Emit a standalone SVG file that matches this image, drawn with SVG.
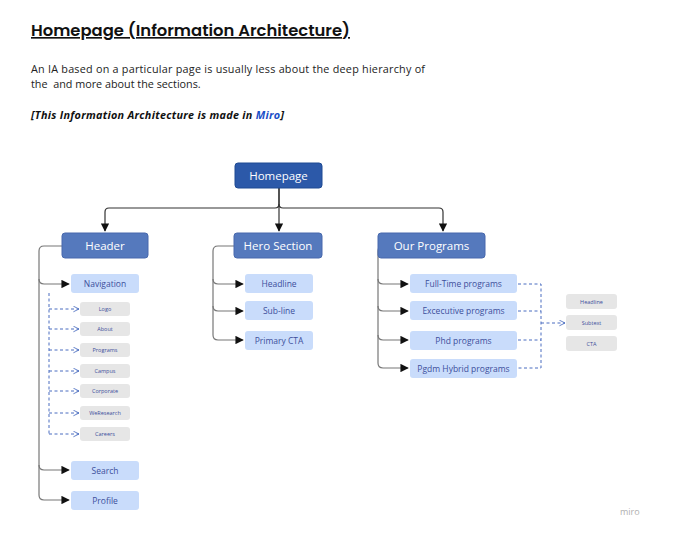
<svg xmlns="http://www.w3.org/2000/svg" width="680" height="552" viewBox="0 0 680 552">
<defs>
<style>
text{font-family:"Open Sans","Noto Sans",sans-serif;}
.dk{fill:#2c59a9;stroke:#1e4a93;stroke-width:1}
.md{fill:#5579bd;stroke:#4869ad;stroke-width:1}
.lt{fill:#c9dcfb}
.gr{fill:#e6e6e6}
.wt{fill:#fff;font-size:11.5px;text-anchor:middle}
.bt{fill:#3d4f9c;font-size:8.5px;text-anchor:middle}
.st{fill:#3d4f9c;font-size:5.5px;text-anchor:middle}
.ln{fill:none;stroke:#333;stroke-width:1.2}
.gl{fill:none;stroke:#777;stroke-width:1.2}
.ds{fill:none;stroke:#4a6cc0;stroke-width:1;stroke-dasharray:3 2.5}
</style>
<marker id="a" viewBox="0 0 10 10" refX="9" refY="5" markerWidth="7" markerHeight="7" orient="auto"><path d="M0,0L10,5L0,10z" fill="#111"/></marker>
<marker id="o" viewBox="0 0 10 10" refX="9" refY="5" markerWidth="7" markerHeight="7" orient="auto"><path d="M1,1L9,5L1,9" fill="none" stroke="#4a6cc0" stroke-width="1.2"/></marker>
</defs>
<rect width="680" height="552" fill="#fff"/>
<text x="31" y="36" font-size="16.5" font-weight="600" fill="#111" text-decoration="underline" style="font-family:'Poppins','Open Sans',sans-serif" textLength="319" lengthAdjust="spacingAndGlyphs">Homepage (Information Architecture)</text>
<text x="31" y="73" font-size="10.8" fill="#222" textLength="394" lengthAdjust="spacing">An IA based on a particular page is usually less about the deep hierarchy of</text>
<text x="31" y="88" font-size="10.8" fill="#222" xml:space="preserve">the  and more about the sections.</text>
<text x="31" y="119" font-size="10.8" font-weight="700" font-style="italic" fill="#111" textLength="253" lengthAdjust="spacing">[This Information Architecture is made in <tspan fill="#1a4fc7">Miro</tspan>]</text>
<g id="connectors">
<path class="ln" d="M279,188V204Q279,208 275,208H109Q105,208 105,212V231" marker-end="url(#a)"/>
<path class="ln" d="M279,188V231" marker-end="url(#a)"/>
<path class="ln" d="M279,204Q279,208 283,208H439Q443,208 443,212V231" marker-end="url(#a)"/>
<path class="gl" d="M62,246H44Q39,246 39,251V495Q39,500 44,500H69" marker-end="url(#a)"/>
<path class="gl" d="M39,279Q39,284 44,284H69" marker-end="url(#a)"/>
<path class="gl" d="M39,465Q39,470 44,470H69" marker-end="url(#a)"/>
<path class="gl" d="M234,246H218Q213,246 213,251V335Q213,340 218,340H243" marker-end="url(#a)"/>
<path class="gl" d="M213,279Q213,284 218,284H243" marker-end="url(#a)"/>
<path class="gl" d="M213,306Q213,311 218,311H243" marker-end="url(#a)"/>
<path class="gl" d="M378,246H383Q378,246 378,251V363Q378,368 383,368H408" marker-end="url(#a)"/>
<path class="gl" d="M378,279Q378,284 383,284H408" marker-end="url(#a)"/>
<path class="gl" d="M378,306Q378,311 383,311H408" marker-end="url(#a)"/>
<path class="gl" d="M378,335Q378,340 383,340H408" marker-end="url(#a)"/>
<path class="ds" d="M49,293V434"/>
<path class="ds" d="M49,309H79" marker-end="url(#o)"/>
<path class="ds" d="M49,329H79" marker-end="url(#o)"/>
<path class="ds" d="M49,350H79" marker-end="url(#o)"/>
<path class="ds" d="M49,371H79" marker-end="url(#o)"/>
<path class="ds" d="M49,391H79" marker-end="url(#o)"/>
<path class="ds" d="M49,413H79" marker-end="url(#o)"/>
<path class="ds" d="M49,434H79" marker-end="url(#o)"/>
<path class="ds" d="M518,284H541V368H518M518,311H541M518,340H541"/>
<path class="ds" d="M541,323H565" marker-end="url(#o)"/>
</g>
<g id="homepage"><rect class="dk" x="235" y="163" width="87" height="25" rx="3"/><text class="wt" x="278.5" y="180">Homepage</text></g>
<g id="header"><rect class="md" x="62" y="233" width="86" height="25" rx="3"/><text class="wt" x="105" y="250">Header</text></g>
<g id="hero"><rect class="md" x="234" y="233" width="88" height="25" rx="3"/><text class="wt" x="278" y="250">Hero Section</text></g>
<g id="programs"><rect class="md" x="378" y="233" width="107" height="25" rx="3"/><text class="wt" x="431.5" y="250">Our Programs</text></g>
<g id="navigation"><rect class="lt" x="71" y="274" width="68" height="19" rx="3"/><text class="bt" x="105" y="287">Navigation</text></g>
<g id="logo"><rect class="gr" x="80" y="302" width="50" height="14" rx="3"/><text class="st" x="105" y="311">Logo</text></g>
<g id="about"><rect class="gr" x="80" y="322" width="50" height="14" rx="3"/><text class="st" x="105" y="331">About</text></g>
<g id="progs"><rect class="gr" x="80" y="343" width="50" height="14" rx="3"/><text class="st" x="105" y="352">Programs</text></g>
<g id="campus"><rect class="gr" x="80" y="364" width="50" height="14" rx="3"/><text class="st" x="105" y="373">Campus</text></g>
<g id="corporate"><rect class="gr" x="80" y="384" width="50" height="14" rx="3"/><text class="st" x="105" y="393">Corporate</text></g>
<g id="weresearch"><rect class="gr" x="80" y="406" width="50" height="14" rx="3"/><text class="st" x="105" y="415">WeResearch</text></g>
<g id="careers"><rect class="gr" x="80" y="427" width="50" height="14" rx="3"/><text class="st" x="105" y="436">Careers</text></g>
<g id="search"><rect class="lt" x="71" y="461" width="68" height="19" rx="3"/><text class="bt" x="105" y="474">Search</text></g>
<g id="profile"><rect class="lt" x="71" y="491" width="68" height="19" rx="3"/><text class="bt" x="105" y="504">Profile</text></g>
<g id="headline"><rect class="lt" x="245" y="274" width="68" height="19" rx="3"/><text class="bt" x="279" y="287">Headline</text></g>
<g id="subline"><rect class="lt" x="245" y="301" width="68" height="19" rx="3"/><text class="bt" x="279" y="314">Sub-line</text></g>
<g id="primarycta"><rect class="lt" x="245" y="331" width="68" height="19" rx="3"/><text class="bt" x="279" y="344">Primary CTA</text></g>
<g id="fulltime"><rect class="lt" x="410" y="274" width="107" height="19" rx="3"/><text class="bt" x="463.5" y="287">Full-Time programs</text></g>
<g id="executive"><rect class="lt" x="410" y="301" width="107" height="19" rx="3"/><text class="bt" x="463.5" y="314">Excecutive programs</text></g>
<g id="phd"><rect class="lt" x="410" y="331" width="107" height="19" rx="3"/><text class="bt" x="463.5" y="344">Phd programs</text></g>
<g id="pgdm"><rect class="lt" x="410" y="359" width="107" height="19" rx="3"/><text class="bt" x="463.5" y="372">Pgdm Hybrid programs</text></g>
<g id="p-headline"><rect class="gr" x="566" y="294" width="51" height="15" rx="3"/><text class="st" x="591.5" y="303.5">Headline</text></g>
<g id="p-subtext"><rect class="gr" x="566" y="315" width="51" height="15" rx="3"/><text class="st" x="591.5" y="324.5">Subtext</text></g>
<g id="p-cta"><rect class="gr" x="566" y="336" width="51" height="15" rx="3"/><text class="st" x="591.5" y="345.5">CTA</text></g>
<text x="620" y="515" font-size="9" fill="#b0b0b0">miro</text>
</svg>
